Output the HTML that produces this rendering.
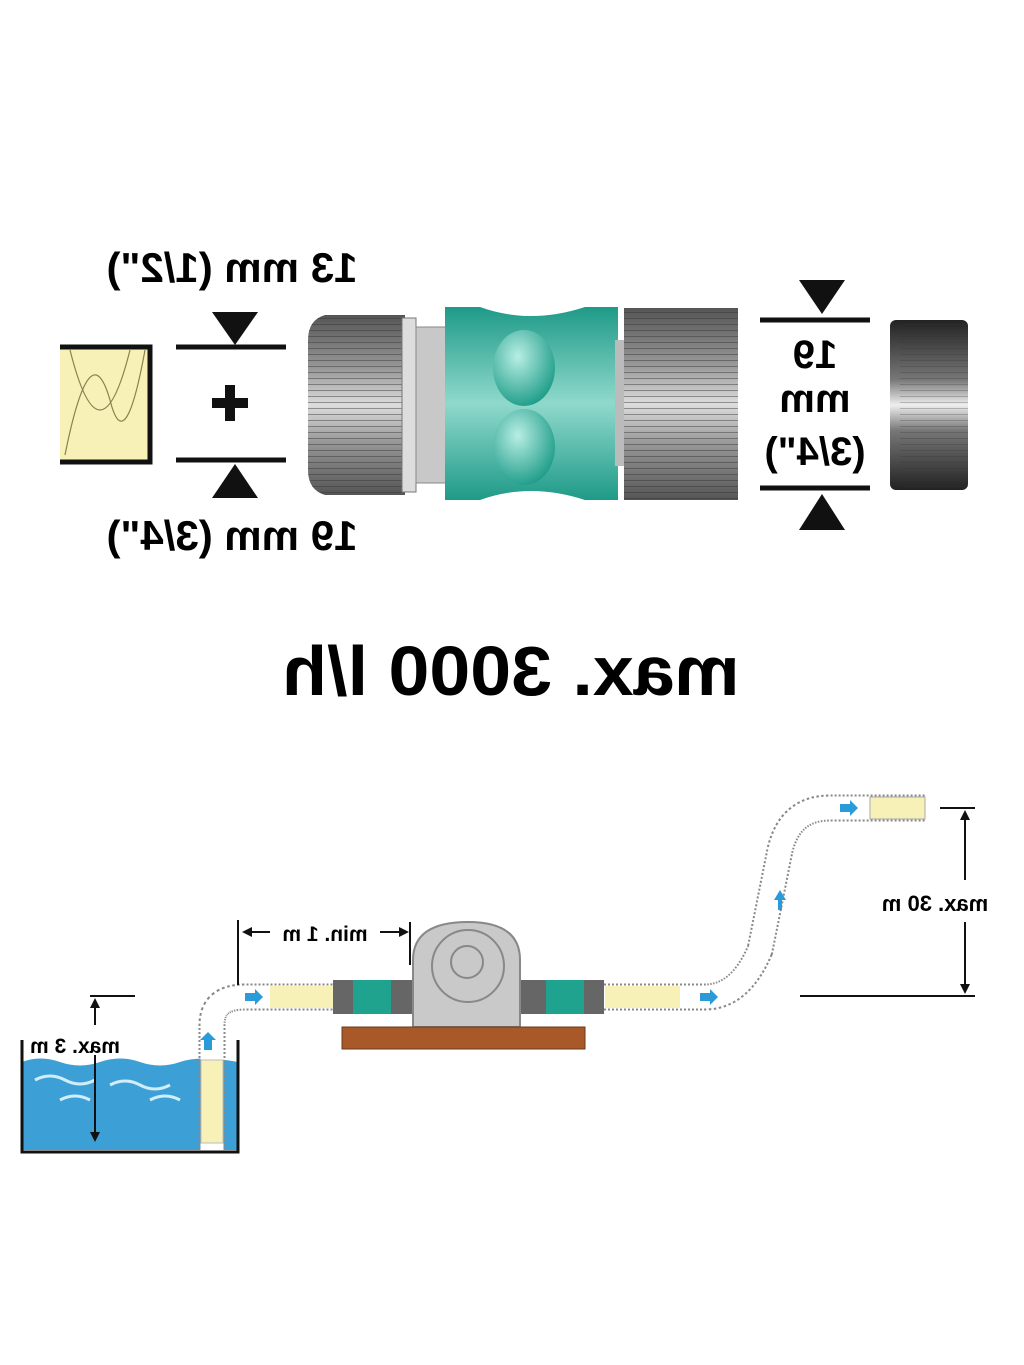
<!DOCTYPE html>
<html><head><meta charset="utf-8"><style>
html,body{margin:0;padding:0;background:#fff;}
svg{display:block;}
text{font-family:"Liberation Sans",sans-serif;font-weight:bold;}
</style></head><body>
<svg width="1024" height="1365" viewBox="0 0 1024 1365" xmlns="http://www.w3.org/2000/svg">
<defs>
<linearGradient id="gr" x1="0" y1="0" x2="0" y2="1">
<stop offset="0" stop-color="#555"/><stop offset="0.3" stop-color="#999"/><stop offset="0.5" stop-color="#ddd"/><stop offset="0.7" stop-color="#999"/><stop offset="1" stop-color="#555"/></linearGradient>
<linearGradient id="gr2" x1="0" y1="0" x2="0" y2="1">
<stop offset="0" stop-color="#222"/><stop offset="0.35" stop-color="#777"/><stop offset="0.5" stop-color="#eee"/><stop offset="0.65" stop-color="#777"/><stop offset="1" stop-color="#222"/></linearGradient>
<linearGradient id="gg" x1="0" y1="0" x2="0" y2="1">
<stop offset="0" stop-color="#1f9a88"/><stop offset="0.5" stop-color="#8fd9cc"/><stop offset="1" stop-color="#1f9a88"/></linearGradient>
<radialGradient id="ov" cx="0.4" cy="0.35" r="0.7"><stop offset="0" stop-color="#b8eee4"/><stop offset="1" stop-color="#1a9a86"/></radialGradient>
<pattern id="rib" width="6" height="6" patternUnits="userSpaceOnUse"><rect width="6" height="6" fill="none"/><line x1="0" y1="0" x2="6" y2="0" stroke="#333" stroke-width="1.5" opacity="0.6"/></pattern>
</defs>
<rect x="60" y="347" width="90" height="115" fill="#f7f1b8"/>
<path d="M60 347 H150 V462 H60" fill="none" stroke="#111" stroke-width="5"/>
<path d="M65 455 Q90 330 110 400 Q125 460 145 350 M70 350 Q100 470 130 350" fill="none" stroke="#8a8050" stroke-width="1.2"/>
<line x1="176" y1="347" x2="286" y2="347" stroke="#111" stroke-width="5"/>
<line x1="176" y1="460" x2="286" y2="460" stroke="#111" stroke-width="5"/>
<polygon points="212,312 258,312 235,345" fill="#111"/>
<polygon points="212,498 258,498 235,464" fill="#111"/>
<rect x="212" y="398" width="36" height="10" fill="#111"/><rect x="225" y="385" width="10" height="36" fill="#111"/>
<g transform="translate(232,282) scale(-1,1)"><text x="0" y="0" text-anchor="middle" font-size="42">13 mm (1/2")</text></g>
<g transform="translate(232,550) scale(-1,1)"><text x="0" y="0" text-anchor="middle" font-size="42">19 mm (3/4")</text></g>
<path d="M325 315 H405 V495 H325 Q308 490 308 470 V340 Q308 320 325 315 Z" fill="url(#gr)"/>
<path d="M325 315 H405 V495 H325 Q308 490 308 470 V340 Q308 320 325 315 Z" fill="url(#rib)"/>
<rect x="402" y="318" width="14" height="174" fill="#ddd" stroke="#777"/>
<rect x="416" y="327" width="32" height="156" fill="#c8c8c8" stroke="#888"/>
<path d="M445 307 H618 V500 H445 Z" fill="url(#gg)"/>
<path d="M480 307 Q530 325 585 307 Z M480 500 Q530 482 585 500 Z" fill="#fff"/>
<ellipse cx="524" cy="368" rx="31" ry="38" fill="url(#ov)"/>
<ellipse cx="524" cy="447" rx="31" ry="38" fill="url(#ov)"/>
<rect x="615" y="340" width="12" height="126" fill="#bbb"/>
<rect x="624" y="308" width="114" height="192" fill="url(#gr)"/>
<rect x="624" y="308" width="114" height="192" fill="url(#rib)"/>
<line x1="760" y1="320" x2="870" y2="320" stroke="#111" stroke-width="5"/>
<line x1="760" y1="488" x2="870" y2="488" stroke="#111" stroke-width="5"/>
<polygon points="799,280 845,280 822,314" fill="#111"/>
<polygon points="799,530 845,530 822,494" fill="#111"/>
<g transform="translate(815,0) scale(-1,1)">
<text x="0" y="368" text-anchor="middle" font-size="40">19</text>
<text x="0" y="412" text-anchor="middle" font-size="40">mm</text>
<text x="0" y="465" text-anchor="middle" font-size="40">(3/4")</text></g>
<rect x="890" y="320" width="78" height="170" rx="6" fill="url(#gr2)"/>
<rect x="900" y="320" width="68" height="170" fill="url(#rib)" opacity="0.6"/>
<g transform="translate(511,695) scale(-1,1)"><text x="0" y="0" text-anchor="middle" font-size="70" transform="scale(1.05,1)">max. 3000 l/h</text></g>

<path d="M22 1062 Q40 1055 60 1062 T100 1062 T140 1062 T180 1062 T238 1062 V1150 H22 Z" fill="#3c9fd6"/>
<path d="M35 1080 q15 -8 30 0 t30 0 M110 1085 q15 -8 30 0 t30 0 M60 1100 q15 -8 30 0 M150 1100 q15-8 30 0" stroke="#cfeefa" stroke-width="3" fill="none"/>
<path d="M22 1040 V1152 H238 V1040" fill="none" stroke="#111" stroke-width="3"/>
<path d="M212 1150 V1025 Q212 997 245 997 H340" fill="none" stroke="#888" stroke-width="27" stroke-dasharray="2 2"/>
<path d="M212 1150 V1025 Q212 997 245 997 H340" fill="none" stroke="#fff" stroke-width="23"/>
<path d="M600 997 H705 Q740 997 760 950 L780 850 Q790 808 830 808 H925" fill="none" stroke="#888" stroke-width="27" stroke-dasharray="2 2"/>
<path d="M600 997 H705 Q740 997 760 950 L780 850 Q790 808 830 808 H925" fill="none" stroke="#fff" stroke-width="23"/>
<rect x="201" y="1060" width="22" height="83" fill="#f7f1b8" stroke="#bbb"/>
<rect x="270" y="986" width="65" height="22" fill="#f7f1b8"/>
<rect x="605" y="986" width="75" height="22" fill="#f7f1b8"/>
<rect x="870" y="797" width="55" height="22" fill="#f7f1b8" stroke="#aaa"/>
<rect x="333" y="980" width="20" height="34" fill="#666"/><rect x="353" y="980" width="38" height="34" fill="#1fa38e"/><rect x="391" y="980" width="26" height="34" fill="#666"/>
<rect x="520" y="980" width="26" height="34" fill="#666"/><rect x="546" y="980" width="38" height="34" fill="#1fa38e"/><rect x="584" y="980" width="20" height="34" fill="#666"/>
<path d="M413 1027 V960 Q413 922 468 922 Q520 922 520 960 V1027 Z" fill="#c9c9c9" stroke="#888" stroke-width="2"/>
<circle cx="468" cy="966" r="36" fill="none" stroke="#888" stroke-width="2"/>
<circle cx="467" cy="962" r="16" fill="none" stroke="#888" stroke-width="2"/>
<rect x="342" y="1027" width="243" height="22" fill="#a9582a" stroke="#6b3a1a"/>
<g fill="#2a9ad8"><path d="M245 993 h10 v-4 l8 8 l-8 8 v-4 h-10z"/><path d="M700 993 h10 v-4 l8 8 l-8 8 v-4 h-10z"/><path d="M840 804 h10 v-4 l8 8 l-8 8 v-4 h-10z"/><path d="M204 1050 v-10 h-4 l8 -8 l8 8 h-4 v10z"/><path d="M778 910 v-10 h-4 l6 -10 l6 10 h-4 v10z"/></g>
<g stroke="#111" stroke-width="2" fill="none">
<line x1="238" y1="920" x2="238" y2="985"/><line x1="410" y1="922" x2="410" y2="965"/>
<line x1="250" y1="932" x2="270" y2="932"/><line x1="380" y1="932" x2="402" y2="932"/>
<line x1="940" y1="808" x2="975" y2="808"/><line x1="800" y1="996" x2="975" y2="996"/>
<line x1="965" y1="815" x2="965" y2="880"/><line x1="965" y1="922" x2="965" y2="990"/>
<line x1="90" y1="996" x2="135" y2="996"/><line x1="95" y1="1002" x2="95" y2="1025"/><line x1="95" y1="1055" x2="95" y2="1140"/>
</g>
<g fill="#111"><polygon points="242,932 252,927 252,937"/><polygon points="409,932 399,927 399,937"/>
<polygon points="965,810 960,820 970,820"/><polygon points="965,994 960,984 970,984"/>
<polygon points="95,998 90,1008 100,1008"/><polygon points="95,1142 90,1132 100,1132"/></g>
<g transform="translate(325,941) scale(-1,1)"><text x="0" y="0" text-anchor="middle" font-size="21">min. 1 m</text></g>
<g transform="translate(935,911) scale(-1,1)"><text x="0" y="0" text-anchor="middle" font-size="22">max. 30 m</text></g>
<g transform="translate(75,1053) scale(-1,1)"><text x="0" y="0" text-anchor="middle" font-size="21">max. 3 m</text></g>
</svg>
</body></html>
